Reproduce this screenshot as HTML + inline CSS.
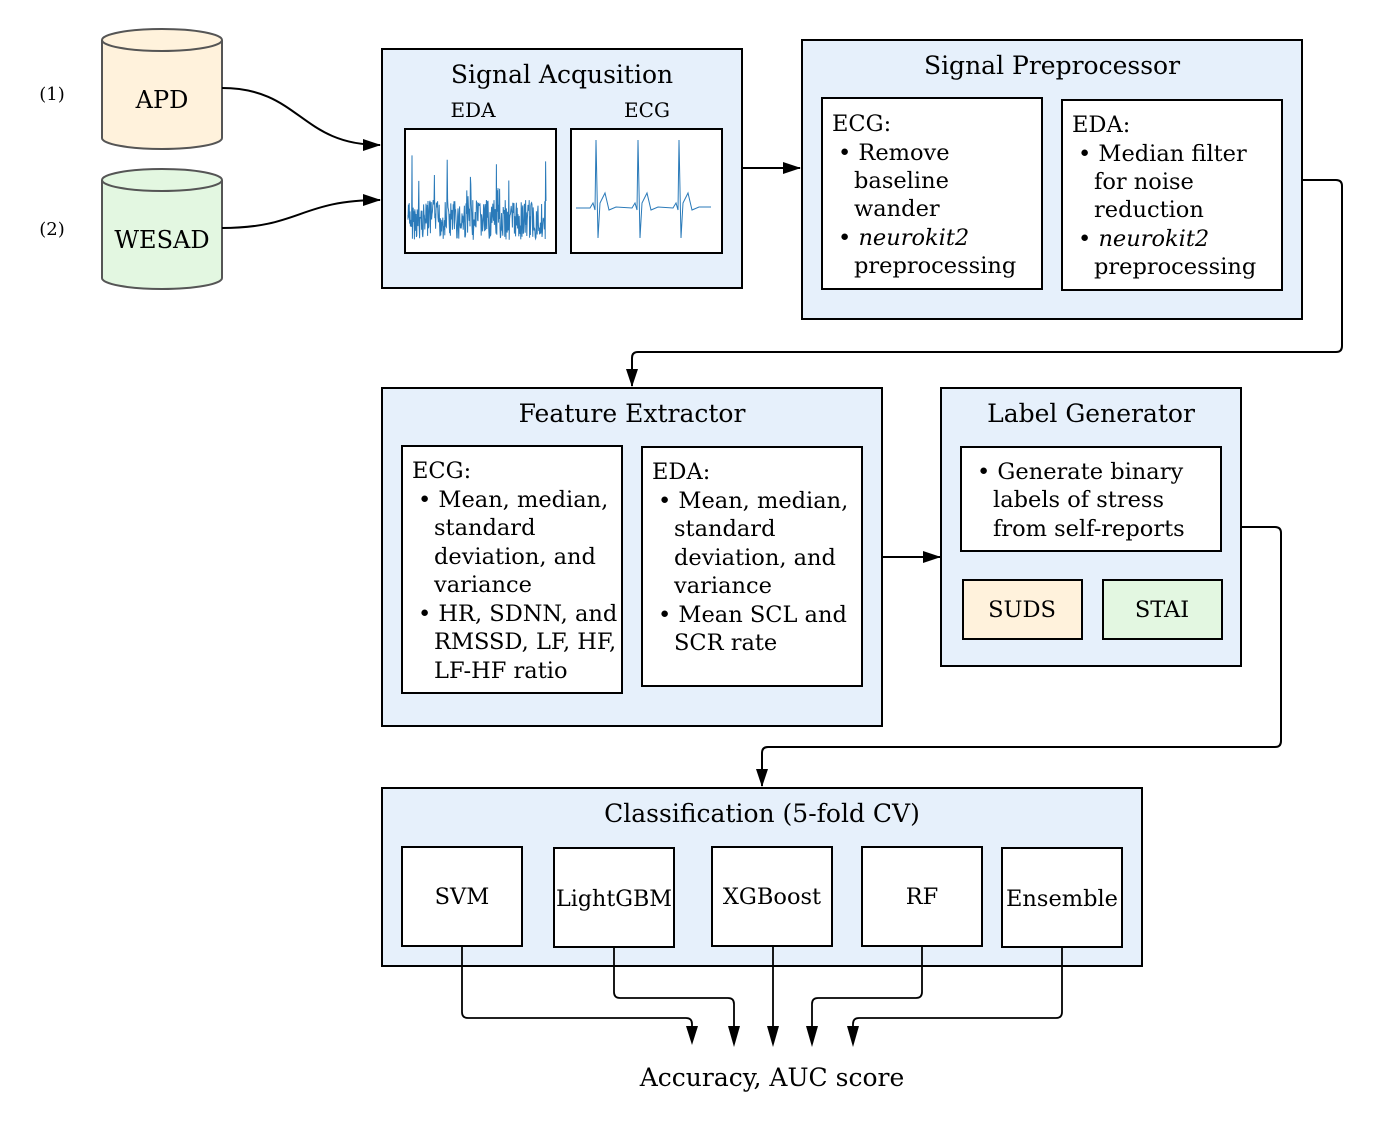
<!DOCTYPE html>
<html><head><meta charset="utf-8"><style>
body{margin:0;background:#fff}
svg text{font-family:"DejaVu Serif","Liberation Serif",serif;fill:#000}
</style></head><body>
<svg id="s" width="1378" height="1127" viewBox="0 0 1378 1127" xmlns="http://www.w3.org/2000/svg">
<defs><marker id="a" markerWidth="18" markerHeight="12" refX="17" refY="6" orient="auto" markerUnits="userSpaceOnUse"><path d="M0,0 L18,6 L0,12 z" fill="#000"/></marker></defs>
<g stroke="#000" stroke-width="2" fill="none">
<path d="M102,40 L102,138 A60,11 0 0 0 222,138 L222,40" fill="#fff2dc" stroke="#555"/>
<ellipse cx="162" cy="40" rx="60" ry="11" fill="#fff2dc" stroke="#555"/>
<path d="M102,180 L102,278 A60,11 0 0 0 222,278 L222,180" fill="#e3f7e1" stroke="#555"/>
<ellipse cx="162" cy="180" rx="60" ry="11" fill="#e3f7e1" stroke="#555"/>
<path d="M222,88 C300,88 300,145 380,145" marker-end="url(#a)"/>
<path d="M222,228 C300,228 300,200 380,200" marker-end="url(#a)"/>
<rect x="382" y="49" width="360" height="239" fill="#e6f0fb"/>
<rect x="405" y="129" width="151" height="124" fill="#fff"/>
<rect x="571" y="129" width="151" height="124" fill="#fff"/>
<path d="M742,168 L800,168" marker-end="url(#a)"/>
<rect x="802" y="40" width="500" height="279" fill="#e6f0fb"/>
<rect x="822" y="98" width="220" height="191" fill="#fff"/>
<rect x="1062" y="100" width="220" height="190" fill="#fff"/>
<path d="M1302,180 L1336,180 Q1342,180 1342,186 L1342,346 Q1342,352 1336,352 L638,352 Q632,352 632,358 L632,386" marker-end="url(#a)"/>
<rect x="382" y="388" width="500" height="338" fill="#e6f0fb"/>
<rect x="402" y="446" width="220" height="247" fill="#fff"/>
<rect x="642" y="447" width="220" height="239" fill="#fff"/>
<path d="M882,557 L940,557" marker-end="url(#a)"/>
<rect x="941" y="388" width="300" height="278" fill="#e6f0fb"/>
<rect x="961" y="447" width="260" height="104" fill="#fff"/>
<rect x="963" y="580" width="119" height="59" fill="#fff2dc"/>
<rect x="1103" y="580" width="119" height="59" fill="#e3f7e1"/>
<path d="M1241,527 L1275,527 Q1281,527 1281,533 L1281,741 Q1281,747 1275,747 L768,747 Q762,747 762,753 L762,786" marker-end="url(#a)"/>
<rect x="382" y="788" width="760" height="178" fill="#e6f0fb"/>
<rect x="402" y="847" width="120" height="99" fill="#fff"/>
<rect x="554" y="848" width="120" height="99" fill="#fff"/>
<rect x="712" y="847" width="120" height="99" fill="#fff"/>
<rect x="862" y="847" width="120" height="99" fill="#fff"/>
<rect x="1002" y="848" width="120" height="99" fill="#fff"/>
<g stroke-width="1.8">
<path d="M462,946 L462,1012 Q462,1018 468,1018 L686,1018 Q692,1018 692,1024 L692,1028"/>
<path d="M614,947 L614,992 Q614,998 620,998 L728,998 Q734,998 734,1004 L734,1028"/>
<path d="M773,946 L773,1028"/>
<path d="M922,946 L922,992 Q922,998 916,998 L818,998 Q812,998 812,1004 L812,1028"/>
<path d="M1062,947 L1062,1012 Q1062,1018 1056,1018 L859,1018 Q853,1018 853,1024 L853,1028"/>
</g>
</g>
<g fill="#000">
<path d="M686,1026 L698,1026 L692,1045 z"/><path d="M728,1026 L740,1026 L734,1047 z"/><path d="M767,1026 L779,1026 L773,1047 z"/><path d="M806,1026 L818,1026 L812,1047 z"/><path d="M847,1026 L859,1026 L853,1047 z"/>
</g>
<path id="eda" fill="none" stroke="#2a7ab9" stroke-width="1"/>
<path id="ecg" fill="none" stroke="#2a7ab9" stroke-width="1"/>
<g font-size="22.5">
<text x="52" y="100" text-anchor="middle" font-size="18">(1)</text>
<text x="52" y="235" text-anchor="middle" font-size="18">(2)</text>
<text x="162" y="108" text-anchor="middle" font-size="24">APD</text>
<text x="162" y="248" text-anchor="middle" font-size="24">WESAD</text>
<text x="562" y="83" text-anchor="middle" font-size="25">Signal Acqusition</text>
<text x="473" y="117" text-anchor="middle" font-size="20">EDA</text>
<text x="647" y="117" text-anchor="middle" font-size="20">ECG</text>
<text x="1052" y="74" text-anchor="middle" font-size="25">Signal Preprocessor</text>
<text x="832" y="131">ECG:</text>
<text x="838" y="160">• Remove</text><text x="854" y="188">baseline</text><text x="854" y="216">wander</text>
<text x="838" y="245">• <tspan font-style="italic">neurokit2</tspan></text><text x="854" y="273">preprocessing</text>
<text x="1072" y="132">EDA:</text>
<text x="1078" y="161">• Median filter</text><text x="1094" y="189">for noise</text><text x="1094" y="217">reduction</text>
<text x="1078" y="246">• <tspan font-style="italic">neurokit2</tspan></text><text x="1094" y="274">preprocessing</text>
<text x="632" y="422" text-anchor="middle" font-size="25">Feature Extractor</text>
<text x="412" y="478">ECG:</text>
<text x="418" y="507">• Mean, median,</text><text x="434" y="535">standard</text><text x="434" y="564">deviation, and</text><text x="434" y="592">variance</text>
<text x="418" y="621">• HR, SDNN, and</text><text x="434" y="649">RMSSD, LF, HF,</text><text x="434" y="678">LF-HF ratio</text>
<text x="652" y="479">EDA:</text>
<text x="658" y="508">• Mean, median,</text><text x="674" y="536">standard</text><text x="674" y="565">deviation, and</text><text x="674" y="593">variance</text>
<text x="658" y="622">• Mean SCL and</text><text x="674" y="650">SCR rate</text>
<text x="1091" y="422" text-anchor="middle" font-size="25">Label Generator</text>
<text x="977" y="479">• Generate binary</text><text x="993" y="507">labels of stress</text><text x="993" y="536">from self-reports</text>
<text x="1022" y="617" text-anchor="middle">SUDS</text>
<text x="1162" y="617" text-anchor="middle">STAI</text>
<text x="762" y="822" text-anchor="middle" font-size="25">Classification (5-fold CV)</text>
<text x="462" y="904" text-anchor="middle">SVM</text>
<text x="614" y="906" text-anchor="middle" textLength="116" lengthAdjust="spacingAndGlyphs">LightGBM</text>
<text x="772" y="904" text-anchor="middle">XGBoost</text>
<text x="922" y="904" text-anchor="middle">RF</text>
<text x="1062" y="906" text-anchor="middle" textLength="112" lengthAdjust="spacingAndGlyphs">Ensemble</text>
<text x="772" y="1086" text-anchor="middle" font-size="25">Accuracy, AUC score</text>
</g>
</svg>
<script>
var s=7;function r(){s=(s*9301+49297)%233280;return s/233280;}
var d="M408,215";for(var x=408;x<546;x+=0.4){var y=200+r()*40-(r()<0.06?r()*55:0);d+=" L"+x.toFixed(1)+","+y.toFixed(1);}
document.getElementById('eda').setAttribute('d',d);
var e="M576,208";var beats=[596,638,679];
beats.forEach(function(b){e+=" L"+(b-6)+",208 L"+(b-3)+",203 L"+(b-1)+",210 L"+b+",140 L"+(b+2)+",238 L"+(b+4)+",203 L"+(b+9)+",193 L"+(b+13)+",210 L"+(b+20)+",207";});
e+=" L711,207";document.getElementById('ecg').setAttribute('d',e);
</script>
</body></html>
